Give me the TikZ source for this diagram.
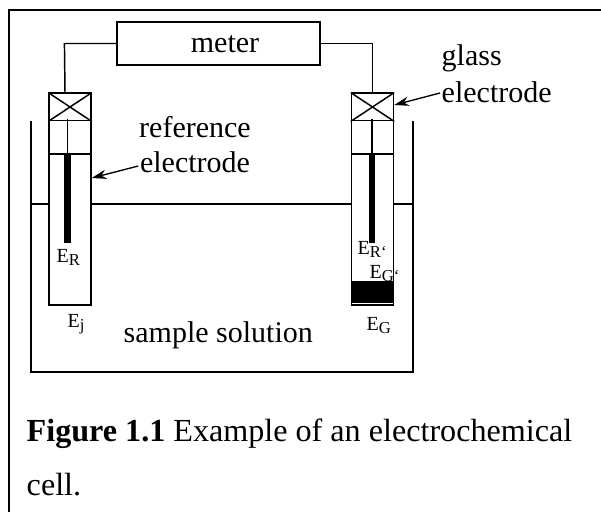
\documentclass[tikz,border=0pt]{standalone}
\usepackage{fontspec}
\setmainfont{Liberation Serif}
\usetikzlibrary{positioning}
\usetikzlibrary{calc}
\usetikzlibrary{arrows.meta}
\newcommand{\lbl}[2]{#1\raisebox{-2.5pt}{\fontsize{12.5}{13}\selectfont #2}}
\begin{document}
\begin{tikzpicture}[x=0.75pt,y=-0.75pt,line width=1.1pt,
	big/.style={inner sep=0pt,font=\fontsize{22.5}{26}\selectfont},
	capt/.style={inner sep=0pt,anchor=base west,font=\fontsize{24.1}{28}\selectfont},
	small/.style={inner sep=0pt,anchor=base west,font=\fontsize{15}{17}\selectfont},
	tube/.style={draw,inner sep=0pt,minimum width=31.5pt,minimum height=159pt},
	crossbox/.style={draw,inner sep=0pt,minimum width=31.5pt,minimum height=20.5pt},
	pointer/.style={-{Stealth[length=11pt,width=7pt]},line width=1pt},
	rod/.style={line width=4.8pt}]
\useasboundingbox (0,0) rectangle (601,512);

\draw[line width=1.2pt] (9,512) -- (9,10) -- (601,10);

\node (meter) at (218.5,43.5) [draw,inner sep=0pt,minimum width=152pt,minimum height=32pt] {};
\node at (225,44) [big] {meter};

\foreach \n/\x/\s in {R/70/-2.5, G/372.5/-0.5} {
\node (tube\n) at (\x,199) [tube] {};
\node (cross\n) at (\x,107) [crossbox] {};
\draw (cross\n.north west) -- (cross\n.south east);
\draw (cross\n.north east) -- (cross\n.south west);
\draw ($(tube\n.west)+(0,-45)$) -- ($(tube\n.east)+(0,-45)$);
\draw ($(cross\n.south)+(\s,-2)$) -- +(0,35);
\draw[rod] ($(cross\n.south)+(\s,33)$) -- +(0,89);
}

% wires
\draw (meter.west) -- ++(-52,0) -- (crossR.north -| 65,0);
\draw (meter.east) -| (crossG.north);

% beaker
\coordinate (bl) at (31,121);
\coordinate (br) at (413,121);
\draw (bl) -- (31,372) -- (413,372) -- (br);
\draw (31,204) -- (tubeR.west |- 0,204);
\draw (tubeR.east |- 0,204) -- (tubeG.west |- 0,204);
\draw (tubeG.east |- 0,204) -- (413,204);

% glass tip
\node (tip) at (tubeG |- 0,293) [fill=black,inner sep=0pt,minimum width=32pt,minimum height=18pt] {};
\draw[white,line width=0.5pt] ($(tip.south west)+(2,-2.5)$) -- ($(tip.south east)+(-2,-2.5)$);

\node (ref) at (195,127) [big] {reference};
\node (refel) at (195,162) [big] {electrode};
\node (gl) at (441,58) [big,anchor=west] {glass};
\node (glel) at (441,92) [big,anchor=west] {electrode};
\draw[pointer] (refel.west) ++(-1,4) -- (tubeR.east |- 0,178);
\draw[pointer] (glel.west) ++(-1,1) -- (crossG.east |- 0,105);

\node (er) at (56,262) [small] {\lbl{E}{R}};
\node (ej) at (67,327) [small] {\lbl{E}{j}};
\node (erp) at (357,254) [small] {\lbl{E}{R`}};
\node (egp) at (369,278) [small] {\lbl{E}{G`}};
\node (eg) at (366,330) [small] {\lbl{E}{G}};
\node (sample) at (123,335) [big,anchor=west] {sample solution};

\node (cap) at (26,441) [capt] {\textbf{Figure 1.1} Example of an electrochemical};
\node (cap2) at (26,495) [capt] {cell.};
\end{tikzpicture}
\end{document}
